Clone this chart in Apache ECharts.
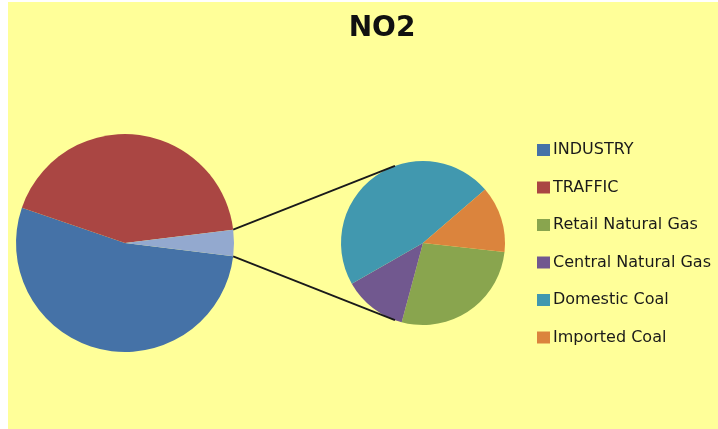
<!DOCTYPE html>
<html>
<head>
<meta charset="utf-8">
<script src="https://cdn.jsdelivr.net/npm/echarts@6/dist/echarts.min.js"></script>
<style>
html,body{margin:0;padding:0;background:#ffffff;}
#chart{width:718px;height:429px;}
</style>
</head>
<body>
<div id="chart"></div>
<script>
// ---- data ----
const mainNames = ['INDUSTRY', 'TRAFFIC'];
const mainValues = [53.3, 42.8];
const subNames = ['Retail Natural Gas', 'Central Natural Gas', 'Domestic Coal', 'Imported Coal'];
const subValues = [1.07, 0.49, 1.83, 0.51];
const legendNames = ['INDUSTRY', 'TRAFFIC', 'Retail Natural Gas', 'Central Natural Gas', 'Domestic Coal', 'Imported Coal'];
const titleText = 'NO2';

// ---- style ----
const mainColors = ['#4572A7', '#AA4643', '#93A9CF'];
const subColors = ['#89A54E', '#71588F', '#4198AF', '#DB843D'];
const mainCenter = [125, 243], mainR = 109;
const subCenter = [423, 243], subR = 82;

const otherValue = subValues.reduce((a, b) => a + b, 0);
const total = mainValues.reduce((a, b) => a + b, 0) + otherValue;
const otherHalf = otherValue / total * 180; // degrees
const mainStart = -otherHalf;

const mainData = mainNames.map((n, i) => ({ name: n, value: mainValues[i], itemStyle: { color: mainColors[i] } }));
mainData.push({ name: 'Other', value: otherValue, itemStyle: { color: mainColors[2] } });
const subData = subNames.map((n, i) => ({ name: n, value: subValues[i], itemStyle: { color: subColors[i] } }));

function pt(c, r, deg) {
  const a = deg * Math.PI / 180;
  return [c[0] + r * Math.cos(a), c[1] - r * Math.sin(a)];
}
const connAngle = 110;
const p1 = pt(mainCenter, mainR, otherHalf), p2 = pt(subCenter, subR, connAngle);
const p3 = pt(mainCenter, mainR, -otherHalf), p4 = pt(subCenter, subR, -connAngle);

const chart = echarts.init(document.getElementById('chart'), null, { renderer: 'canvas' });
chart.setOption({
  animation: false,
  backgroundColor: '#ffffff',
  title: {
    text: titleText,
    left: 377, top: 10, textAlign: 'center',
    textStyle: { fontFamily: 'DejaVu Sans', fontWeight: 'bold', fontSize: 28, color: '#111111' }
  },
  legend: {
    data: legendNames,
    orient: 'vertical',
    left: 537, top: 142,
    padding: 0,
    itemWidth: 13, itemHeight: 12,
    itemGap: 21.5,
    icon: 'rect',
    selectedMode: false,
    textStyle: { fontFamily: 'DejaVu Sans', fontSize: 16, color: '#1a1a1a', padding: [0, 0, 0, -2] }
  },
  graphic: [
    { type: 'rect', z: -10, silent: true, shape: { x: 8, y: 2, width: 710, height: 427 }, style: { fill: '#FFFF99' } },
    { type: 'line', z: 10, silent: true, shape: { x1: p1[0], y1: p1[1], x2: p2[0], y2: p2[1] }, style: { stroke: '#1a1a1a', lineWidth: 1.8 } },
    { type: 'line', z: 10, silent: true, shape: { x1: p3[0], y1: p3[1], x2: p4[0], y2: p4[1] }, style: { stroke: '#1a1a1a', lineWidth: 1.8 } }
  ],
  series: [
    {
      type: 'pie', center: mainCenter, radius: mainR,
      startAngle: mainStart, clockwise: true,
      label: { show: false }, labelLine: { show: false },
      emphasis: { disabled: true }, silent: true,
      data: mainData
    },
    {
      type: 'pie', center: subCenter, radius: subR,
      startAngle: -6.3, clockwise: true,
      label: { show: false }, labelLine: { show: false },
      emphasis: { disabled: true }, silent: true,
      data: subData
    }
  ]
});
</script>
</body>
</html>
